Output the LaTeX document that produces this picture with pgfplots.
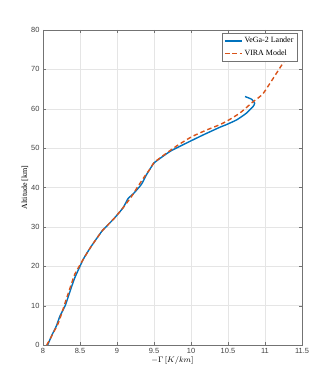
\documentclass[border=0pt]{standalone}
\usepackage{pgfplots}
\pgfplotsset{compat=1.18}
\usepackage{fontspec}
\setmainfont{Liberation Serif}
\setsansfont{Liberation Sans}
\definecolor{mblue}{rgb}{0,0.447,0.741}
\definecolor{morange}{rgb}{0.85,0.325,0.098}
\begin{document}
\begin{tikzpicture}
\begin{axis}[name=ax,
  scale only axis, width=259bp, height=315bp,
  xmin=8, xmax=11.5, ymin=0, ymax=80,
  xtick={8,8.5,...,11.5}, ytick={0,10,...,80},
  xticklabels={8,8.5,9,9.5,10,10.5,11,11.5},
  tick label style={font=\sffamily\fontsize{7.5}{9}\selectfont, text=black!75},
  /pgf/number format/assume math mode=true,
  grid=major, grid style={black!10, line width=0.4pt},
  axis line style={black!55, line width=0.5pt},
  tick style={black!55},
  tick align=inside, major tick length=3pt,
  xlabel={$-\Gamma\,[K/km]$}, ylabel={Altitude [km]},
  label style={font=\fontsize{8}{9}\selectfont},
  xlabel style={yshift=4pt}, ylabel style={yshift=-4pt},
  legend style={at={(0.983,0.99)}, anchor=north east, font=\fontsize{8}{9}\selectfont,
    draw=black!55, inner sep=2pt, row sep=1.5pt},
  legend cell align=left,
]
\addplot[mblue, line width=1.4pt, smooth, tension=0.3] coordinates {
(8.063,0) (8.12,2.5) (8.18,4.8) (8.23,7.4) (8.30,10) (8.39,15) (8.43,17.1)
(8.545,21.8) (8.65,25) (8.8,29) (8.95,31.9) (9.08,34.8) (9.15,37.2) (9.22,38.4)
(9.33,40.8) (9.40,43.3) (9.47,45.4) (9.51,46.4) (9.72,49.2) (9.94,51.3) (10.17,53.4)
(10.39,55.3) (10.47,55.9) (10.62,57.2) (10.75,58.9) (10.84,60.6) (10.86,61.4)
(10.82,62.4) (10.73,63.1)};
\addlegendentry{VeGa-2 Lander}
\addplot[morange, line width=1.4pt, dash pattern=on 4.5pt off 3pt, smooth, tension=0.3] coordinates {
(8.05,0) (8.095,1.5) (8.21,5.7) (8.30,10.8) (8.39,15.9) (8.43,18) (8.545,21.8)
(8.65,25) (8.8,29) (8.95,31.9) (9.08,34.8) (9.2,37.8) (9.28,40.2) (9.38,43)
(9.45,44.8) (9.5,46.3) (9.63,48.2) (9.81,50.6) (10.01,52.9) (10.21,54.6)
(10.37,55.8) (10.48,56.8) (10.66,58.9) (10.84,61.8) (10.98,64) (11.27,72.4)};
\addlegendentry{VIRA Model}
\end{axis}
\path[use as bounding box] ([shift={(-43bp,-44bp)}]ax.south west) rectangle ([shift={(32bp,30bp)}]ax.north east);
\end{tikzpicture}
\end{document}
